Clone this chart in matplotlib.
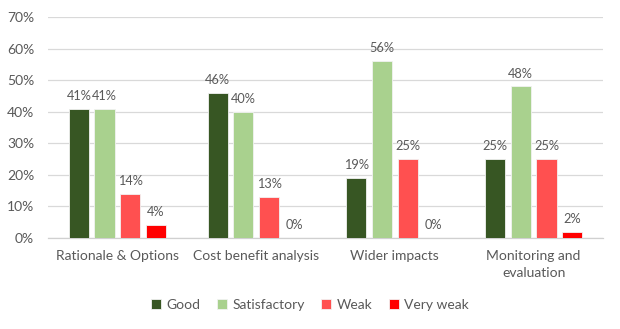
import matplotlib
matplotlib.use("Agg")
import matplotlib.pyplot as plt
import numpy as np
from matplotlib.ticker import PercentFormatter

categories = ["Rationale & Options", "Cost benefit analysis", "Wider impacts", "Monitoring and\nevaluation"]
series_names = ["Good", "Satisfactory", "Weak", "Very weak"]
good = [41, 46, 19, 25]
satisfactory = [41, 40, 56, 48]
weak = [14, 13, 25, 25]
very_weak = [4, 0, 0, 2]
colors = ["#375623", "#A9D18E", "#FF5050", "#FF0000"]

plt.rcParams["font.family"] = ["Lato", "DejaVu Sans"]
text_color = "#595959"
fs = 10

fig = plt.figure(figsize=(6.2, 3.29), dpi=100)
ax = fig.add_axes([48 / 620, 1 - 238 / 329, 555 / 620, 221 / 329])

x = np.arange(len(categories))
step = 0.185
width = 0.145
all_series = [good, satisfactory, weak, very_weak]
for i, (name, vals, col) in enumerate(zip(series_names, all_series, colors)):
    pos = x + (i - 1.5) * step
    bars = ax.bar(pos, vals, width, color=col, label=name,
                  edgecolor="#F2F2F2", linewidth=0.6, zorder=3)
    for b, v in zip(bars, vals):
        ax.annotate(f"{v}%", (b.get_x() + b.get_width() / 2, v),
                    xytext=(0, 5), textcoords="offset points",
                    ha="center", va="bottom", fontsize=9.2, color=text_color)

ax.set_ylim(0, 70)
ax.set_xlim(-0.5, len(categories) - 0.5)
ax.set_yticks(range(0, 71, 10))
ax.yaxis.set_major_formatter(PercentFormatter(decimals=0))
ax.set_xticks(x)
ax.set_xticklabels(categories, linespacing=1.45)
ax.tick_params(axis="both", length=0, colors=text_color, labelsize=fs)
ax.tick_params(axis="x", pad=9)
ax.tick_params(axis="y", pad=10)
ax.grid(axis="y", color="#D9D9D9", linewidth=0.9, zorder=0)
for s in ["top", "right", "left"]:
    ax.spines[s].set_visible(False)
ax.spines["bottom"].set_color("#D0D0D0")
ax.spines["bottom"].set_linewidth(0.9)

leg = fig.legend(loc="center", bbox_to_anchor=(0.5, 1 - 305 / 329), ncol=4,
                 frameon=False, fontsize=fs, handlelength=0.7, handleheight=0.7,
                 handletextpad=0.4, columnspacing=1.2)
for t in leg.get_texts():
    t.set_color(text_color)

fig.savefig("out.png", dpi=100)
